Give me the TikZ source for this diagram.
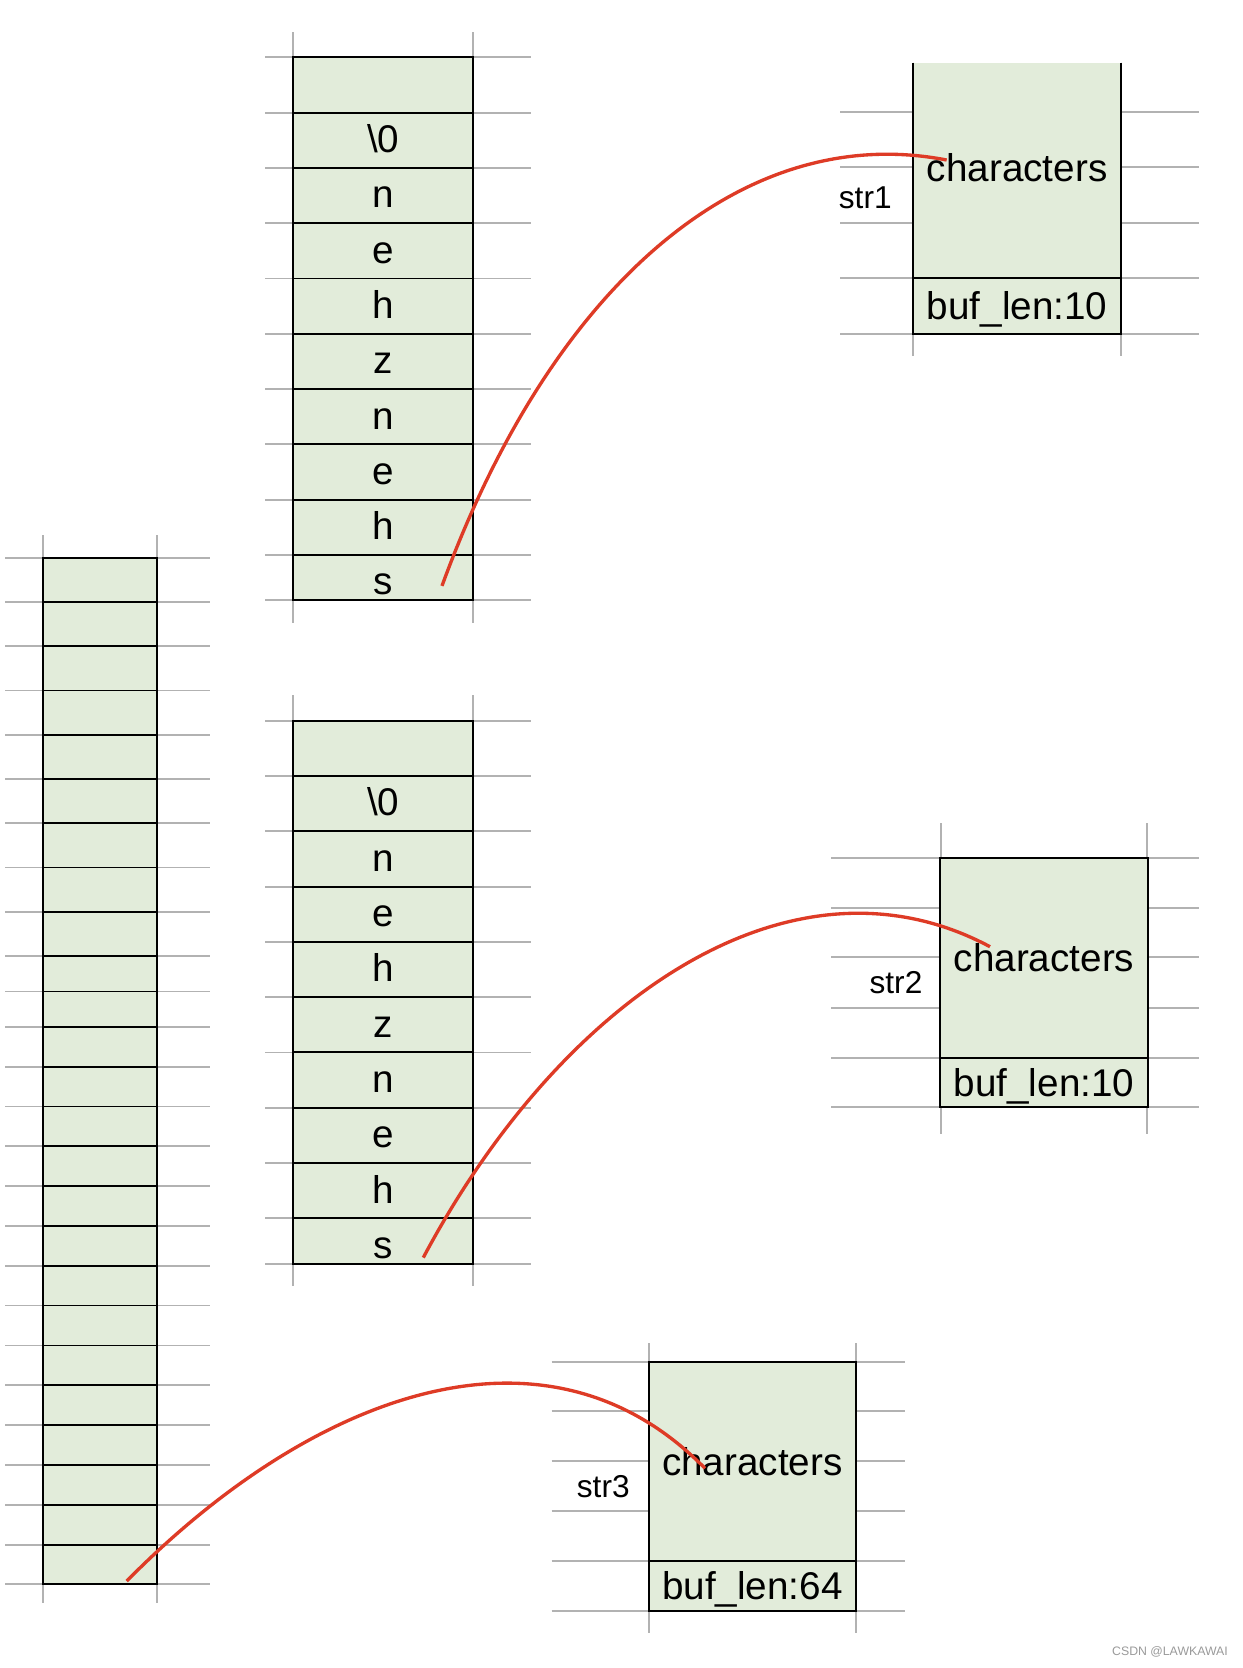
\documentclass[tikz,border=0pt]{standalone}
\usepackage{fontspec}
\setmainfont{Liberation Sans}
\usepackage{tikz}
\usetikzlibrary{positioning}
\definecolor{cellgreen}{HTML}{E2ECDA}
\definecolor{gridgray}{HTML}{B2B2B2}
\definecolor{linkred}{HTML}{DE3B26}
\definecolor{markgray}{HTML}{9A9A9A}
\newcommand{\bigtext}{\fontsize{22}{26}\selectfont}
\newcommand{\fieldtext}{\fontsize{18}{22}\selectfont}
\tikzset{gridline/.style={draw=gridgray, line width=1.1pt}}
\tikzset{cell/.style={draw=black, fill=cellgreen, line width=1.1pt, inner sep=0pt, outer sep=0pt,
  minimum width=3.594cm, minimum height=1.106cm, text height=0.494cm, text depth=0pt, font=\bigtext}}
\tikzset{lastcell/.style={cell, minimum height=0.906cm, text height=0.694cm}}
\tikzset{slot/.style={draw=black, fill=cellgreen, line width=1.1pt, inner sep=0pt, outer sep=0pt, minimum width=2.292cm}}
\tikzset{chars/.style={fill=cellgreen, inner sep=0pt, outer sep=0pt, minimum width=4.15cm, font=\bigtext}}
\tikzset{boxed/.style={chars, draw=black, line width=1.1pt}}
\tikzset{lencell/.style={boxed, text depth=0pt}}
\tikzset{fieldname/.style={anchor=east, inner sep=0pt, font=\fieldtext}}
\tikzset{link/.style={draw=linkred, line width=1.9pt}}

\begin{document}
\begin{tikzpicture}[x=0.02cm, y=-0.02cm]
  \fill[white] (0,0) rectangle (1242,1668);
  \useasboundingbox (0,0) rectangle (1242,1668);
  % Grid lines
  \foreach \dy in {0,663.4} {
    \foreach \y in {57.3,112.6,167.9,223.2,278.5,333.8,389.1,444.4,499.7,555,600.3}
      \draw[gridline] (265,{\y+\dy}) -- (531,{\y+\dy});
    \draw[gridline] (293.3,{32+\dy}) -- (293.3,{623+\dy});
    \draw[gridline] (473,{32+\dy}) -- (473,{623+\dy});
  }
  \foreach \y in {557.6,602.3,646.4,690.5,734.9,779,823.4,867.5,911.6,956.3,991.5,1026.9,1066.7,
    1106.5,1146.1,1186,1226,1265.9,1305.5,1345.5,1385.4,1425,1464.6,1504.9,1544.8,1584.1}
    \draw[gridline] (5,\y) -- (210,\y);
  \draw[gridline] (42.7,535) -- (42.7,1603);
  \draw[gridline] (157.3,535) -- (157.3,1603);
  \foreach \y in {112,167.3,222.7,278.3,333.7}
    \draw[gridline] (840,\y) -- (1199,\y);
  \draw[gridline] (913.3,62.7) -- (913.3,356);
  \draw[gridline] (1121,62.7) -- (1121,356);
  \foreach \y in {858.3,908.3,957.3,1007.7,1057.7,1106.7}
    \draw[gridline] (831,\y) -- (1199,\y);
  \draw[gridline] (940.7,823.3) -- (940.7,1134);
  \draw[gridline] (1147.3,823.3) -- (1147.3,1134);
  \foreach \y in {1361.7,1411,1461,1511,1560.7,1610.7}
    \draw[gridline] (551.7,\y) -- (905,\y);
  \draw[gridline] (648.7,1343) -- (648.7,1632.7);
  \draw[gridline] (856,1343) -- (856,1632.7);

  % Buffers
  \node[cell] (a0) at (383.15,84.95) {};
  \node[cell, below=0pt of a0] (a1) {\textbackslash 0};
  \node[cell, below=0pt of a1] (a2) {n};
  \node[cell, below=0pt of a2] (a3) {e};
  \node[cell, below=0pt of a3] (a4) {h};
  \node[cell, below=0pt of a4] (a5) {z};
  \node[cell, below=0pt of a5] (a6) {n};
  \node[cell, below=0pt of a6] (a7) {e};
  \node[cell, below=0pt of a7] (a8) {h};
  \node[lastcell, below=0pt of a8] (a9) {s};

  \node[cell] (b0) at (383.15,748.35) {};
  \node[cell, below=0pt of b0] (b1) {\textbackslash 0};
  \node[cell, below=0pt of b1] (b2) {n};
  \node[cell, below=0pt of b2] (b3) {e};
  \node[cell, below=0pt of b3] (b4) {h};
  \node[cell, below=0pt of b4] (b5) {z};
  \node[cell, below=0pt of b5] (b6) {n};
  \node[cell, below=0pt of b6] (b7) {e};
  \node[cell, below=0pt of b7] (b8) {h};
  \node[lastcell, below=0pt of b8] (b9) {s};

  \foreach \ya/\yb [count=\i] in {557.6/602.3,602.3/646.4,646.4/690.5,690.5/734.9,734.9/779,
    779/823.4,823.4/867.5,867.5/911.6,911.6/956.3,956.3/991.5,991.5/1026.9,1026.9/1066.7,
    1066.7/1106.5,1106.5/1146.1,1146.1/1186,1186/1226,1226/1265.9,1265.9/1305.5,1305.5/1345.5,
    1345.5/1385.4,1385.4/1425,1425/1464.6,1464.6/1504.9,1504.9/1544.8,1544.8/1584.1}
    \node[slot, minimum height={(\yb-\ya)*0.02cm}] (c\i) at (100,{(\ya+\yb)/2}) {};

  % Structs
  \node[chars, minimum height=4.312cm, text depth=0.14cm] (chars1) at (1017.15,170.5) {characters};
  \node[lencell, minimum height=1.108cm, below=0pt of chars1] (len1) {buf\_len:10};
  \draw[black, line width=1.1pt] (chars1.north west) -- (chars1.south west)
    (chars1.north east) -- (chars1.south east);
  \node[fieldname] (name1) at (892,197.5) {str1};

  \node[boxed, minimum height=3.988cm] (chars2) at (1044,958) {characters};
  \node[lencell, minimum height=0.98cm, below=0pt of chars2] (len2) {buf\_len:10};
  \node[fieldname] (name2) at (922.7,983) {str2};

  \node[boxed, minimum height=3.98cm] (chars3) at (752.35,1461.2) {characters};
  \node[lencell, minimum height=1.0cm, below=0pt of chars3] (len3) {buf\_len:64};
  \node[fieldname] (name3) at (630,1487) {str3};

  \node[font=\fontsize{7}{8}\selectfont, text=markgray] (mark) at (1170,1651.5) {CSDN @LAWKAWAI};

  % Links
  \coordinate (from1) at ([shift={(-31,-14.3)}]a9.south east);
  \coordinate (to1) at ([shift={(-70.5,-10.5)}]chars1.center);
  \coordinate (from2) at ([shift={(-49.7,-6)}]b9.south east);
  \coordinate (to2) at ([shift={(-54,-11.3)}]chars2.center);
  \coordinate (from3) at ([shift={(-30.6,-3)}]c25.south east);
  \coordinate (to3) at ([shift={(-47.4,7.1)}]chars3.center);
  \draw[link] (from1) .. controls +(108,-296) and +(-206.7,-40) .. (to1);
  \draw[link] (from2) .. controls +(136.7,-257.3) and +(-200,-106.7) .. (to2);
  \draw[link] (from3) .. controls +(183.3,-186) and +(-160,-163.3) .. (to3);
\end{tikzpicture}
\end{document}
